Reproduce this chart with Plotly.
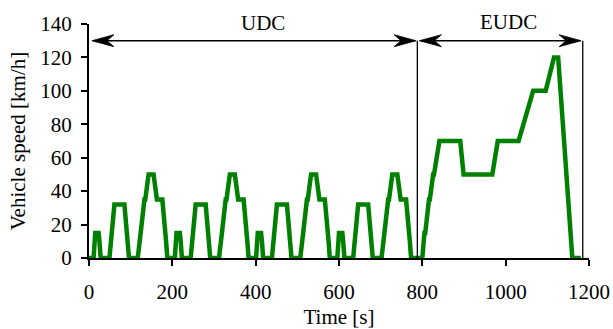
import plotly.graph_objects as go

# --- Data: NEDC driving cycle (time [s], speed [km/h]) ---
udc1_t = [0, 11, 15, 23, 25, 28, 49, 54, 56, 61, 85, 93, 96, 117, 122, 124, 133, 135, 143, 155, 163, 176, 185, 188, 195]
udc1_v = [0, 0, 15, 15, 10, 0, 0, 15, 15, 32, 32, 10, 0, 0, 15, 15, 35, 35, 50, 50, 35, 35, 10, 0, 0]
udc2_t = [195, 206, 210, 218, 220, 223, 244, 249, 251, 256, 280, 288, 291, 312, 317, 319, 328, 330, 338, 350, 358, 371, 380, 383, 390]
udc2_v = [0, 0, 15, 15, 10, 0, 0, 15, 15, 32, 32, 10, 0, 0, 15, 15, 35, 35, 50, 50, 35, 35, 10, 0, 0]
udc3_t = [390, 401, 405, 413, 415, 418, 439, 444, 446, 451, 475, 483, 486, 507, 512, 514, 523, 525, 533, 545, 553, 566, 575, 578, 585]
udc3_v = [0, 0, 15, 15, 10, 0, 0, 15, 15, 32, 32, 10, 0, 0, 15, 15, 35, 35, 50, 50, 35, 35, 10, 0, 0]
udc4_t = [585, 596, 600, 608, 610, 613, 634, 639, 641, 646, 670, 678, 681, 702, 707, 709, 718, 720, 728, 740, 748, 761, 770, 773, 780]
udc4_v = [0, 0, 15, 15, 10, 0, 0, 15, 15, 32, 32, 10, 0, 0, 15, 15, 35, 35, 50, 50, 35, 35, 10, 0, 0]
eudc_t = [780, 800, 805, 807, 816, 818, 826, 828, 841, 891, 899, 968, 981, 1031, 1066, 1096, 1116, 1126, 1160, 1180]
eudc_v = [0, 0, 15, 15, 35, 35, 50, 50, 70, 70, 50, 50, 70, 70, 100, 100, 120, 120, 0, 0]

time_s = udc1_t + udc2_t[1:] + udc3_t[1:] + udc4_t[1:] + eudc_t[1:]
speed_kmh = udc1_v + udc2_v[1:] + udc3_v[1:] + udc4_v[1:] + eudc_v[1:]

x_ticks = [0, 200, 400, 600, 800, 1000, 1200]
y_ticks = [0, 20, 40, 60, 80, 100, 120, 140]
y_max = 140

# Phase annotation values
phase_labels = ["UDC", "EUDC"]
phase_label_x = [418, 1007]
phase_label_y = [140.5, 141]
arrow_y = 130
udc_arrow = [7, 785]
eudc_arrow = [793, 1181]
boundary_x = [788, 1185]

FONT = "Liberation Serif, serif"
FS = 21

fig = go.Figure()
fig.add_trace(go.Scatter(
    x=time_s, y=speed_kmh, mode="lines",
    line=dict(color="#008000", width=4.5),
    cliponaxis=False, showlegend=False, hoverinfo="skip",
))

shapes = []
for bx in boundary_x:
    shapes.append(dict(type="line", xref="x", yref="y", x0=bx, x1=bx, y0=0, y1=arrow_y,
                       line=dict(color="black", width=1.3)))
for a0, a1 in (udc_arrow, eudc_arrow):
    shapes.append(dict(type="line", xref="x", yref="y", x0=a0 + 3, x1=a1 - 3, y0=arrow_y, y1=arrow_y,
                       line=dict(color="black", width=1.5)))
    shapes.append(dict(type="path", xref="x", yref="y", xsizemode="pixel", ysizemode="pixel",
                       xanchor=a0, yanchor=arrow_y,
                       path="M0,0 L22,6 L15,0 L22,-6 Z",
                       fillcolor="black", line=dict(color="black", width=0.8)))
    shapes.append(dict(type="path", xref="x", yref="y", xsizemode="pixel", ysizemode="pixel",
                       xanchor=a1, yanchor=arrow_y,
                       path="M0,0 L-22,6 L-15,0 L-22,-6 Z",
                       fillcolor="black", line=dict(color="black", width=0.8)))

annotations = []
for lab, lx, ly in zip(phase_labels, phase_label_x, phase_label_y):
    annotations.append(dict(x=lx, y=ly / y_max, xref="x", yref="paper", text=lab, showarrow=False,
                            font=dict(family=FONT, size=FS, color="black"),
                            xanchor="center", yanchor="middle"))

fig.update_layout(
    width=613, height=329,
    margin=dict(l=89, r=24, t=24, b=71),
    paper_bgcolor="white", plot_bgcolor="white",
    font=dict(family=FONT, size=FS, color="black"),
    shapes=shapes, annotations=annotations,
    showlegend=False,
)
fig.update_xaxes(
    range=[0, 1200], tickvals=x_ticks, ticktext=[str(v) for v in x_ticks],
    showline=True, linecolor="black", linewidth=2,
    ticks="outside", ticklen=6, tickwidth=2, tickcolor="black",
    tickfont=dict(family=FONT, size=FS, color="black"),
    showgrid=False, zeroline=False, automargin=False,
    ticklabelstandoff=8,
    title=dict(text="Time [s]", font=dict(family=FONT, size=FS, color="black"), standoff=13),
)
fig.update_yaxes(
    range=[0, y_max], tickvals=y_ticks, ticktext=[str(v) for v in y_ticks],
    showline=True, linecolor="black", linewidth=2,
    ticks="outside", ticklen=6, tickwidth=2, tickcolor="black",
    tickfont=dict(family=FONT, size=FS, color="black"),
    showgrid=False, zeroline=False, automargin=False,
    ticklabelstandoff=5,
    title=dict(text="Vehicle speed [km/h]", font=dict(family=FONT, size=FS, color="black"), standoff=9),
)

fig.write_html("out.html", config={"displayModeBar": False},
               post_script="document.body.style.margin='0';")
